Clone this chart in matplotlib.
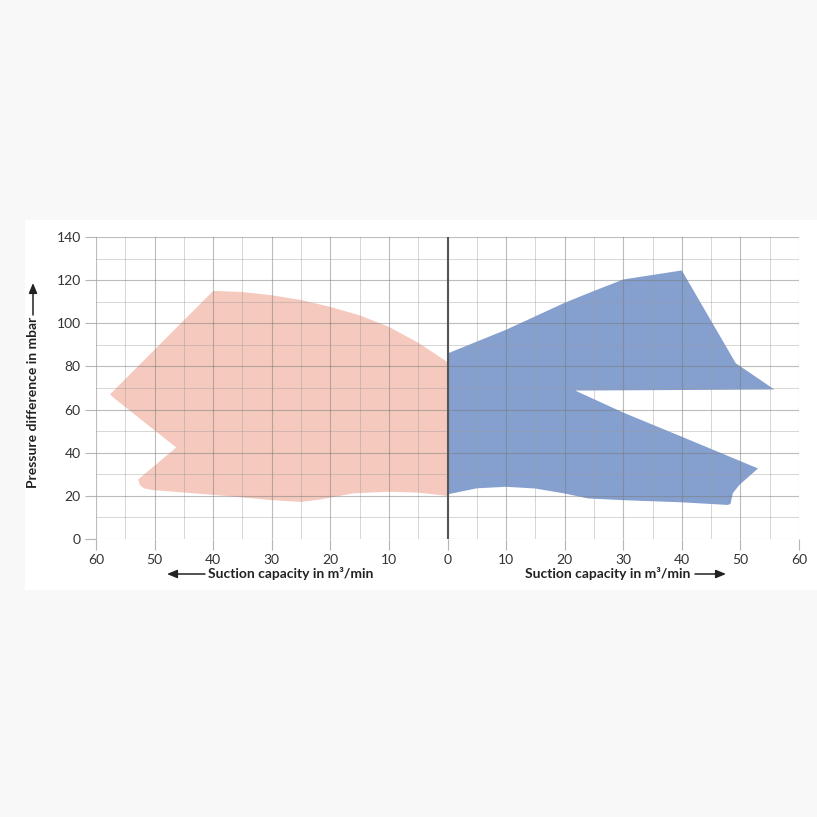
import matplotlib
matplotlib.use("Agg")
import matplotlib.pyplot as plt
from matplotlib.patches import Rectangle, FancyArrowPatch
import numpy as np

plt.rcParams['font.family'] = ['Lato', 'DejaVu Sans']

# Left (pink) operating range: suction capacity (plotted to the left), pressure difference
left_capacity = [40, 35, 30, 25, 20, 15, 10, 5, 0,
                 0, 5, 10, 16, 22, 25, 30, 37.4, 50.4, 51.8, 52.5, 52.8,
                 46.3, 57.0, 57.6, 57.0, 40]
left_pressure = [115, 114.5, 113, 110.8, 107.6, 103.7, 98.3, 91, 82,
                 20, 21.5, 21.9, 21.2, 18.2, 17.2, 18, 19.9, 22.7, 23.5, 25, 27.6,
                 42.4, 65.5, 67.1, 68.7, 115]

# Right (blue) operating range
right_capacity = [0, 10, 20, 25, 30, 40, 49.2, 55.8, 21.8, 30, 40, 53.0,
                  49.8, 48.7, 48.3, 47.8, 40, 30, 24, 20, 15, 10, 5, 0]
right_pressure = [86, 97, 109.5, 115, 120.3, 124.5, 81.5, 69.3, 68.8, 58.6, 47.4, 32.7,
                  25, 21.2, 16.2, 15.8, 17, 18, 18.8, 21.1, 23.4, 24.2, 23.5, 20.7]

x_ticks = [-60, -50, -40, -30, -20, -10, 0, 10, 20, 30, 40, 50, 60]
x_tick_labels = ['60', '50', '40', '30', '20', '10', '0', '10', '20', '30', '40', '50', '60']
y_ticks = [0, 20, 40, 60, 80, 100, 120, 140]

W = H = 817
fig = plt.figure(figsize=(8.17, 8.17), dpi=100, facecolor='#f8f8f8')
fig.patches.append(Rectangle((25, H - 590), 792, 370, transform=None,
                             facecolor='white', edgecolor='none', zorder=-10))

ax = fig.add_axes([96 / W, 1 - 539 / H, (799 - 96) / W, (539 - 237) / H])
ax.set_facecolor('none')
ax.set_xlim(-60, 60)
ax.set_ylim(0, 140)

ax.fill([-c for c in left_capacity], left_pressure, color='#f5c9bd', lw=0, zorder=1)
ax.fill(right_capacity, right_pressure, color='#85a0cf', lw=0, zorder=1)

ax.set_xticks(x_ticks)
ax.set_xticklabels(x_tick_labels)
ax.set_xticks(np.arange(-55, 60, 10), minor=True)
ax.set_yticks(y_ticks)
ax.set_yticks(np.arange(10, 140, 20), minor=True)

ax.grid(which='major', color='#7a7a7a', alpha=0.5, lw=0.8, zorder=2)
ax.grid(which='minor', color='#9a9a9a', alpha=0.4, lw=0.7, zorder=2)
ax.set_axisbelow(False)
for s in ax.spines.values():
    s.set_visible(False)

ax.tick_params(which='major', length=8, width=0.8, color='#b5b5b5',
               labelsize=10, labelcolor='#333333', pad=3)
ax.tick_params(which='minor', length=0)

ax.axvline(0, color='#555555', lw=1.5, zorder=3)

# Axis labels with arrows
lab_kw = dict(fontsize=10, fontweight='bold', color='#222222')
fig.text(208, H - 574, 'Suction capacity in m³/min', transform=None,
         ha='left', va='center', **lab_kw)
fig.text(690, H - 574, 'Suction capacity in m³/min', transform=None,
         ha='right', va='center', **lab_kw)
fig.text(33, H - 402, 'Pressure difference in mbar', transform=None,
         ha='center', va='center', rotation=90, **lab_kw)

for xy, xyt in [((167, H - 574), (205, H - 574)),
                ((726, H - 574), (695, H - 574)),
                ((33, H - 283), (33, H - 315))]:
    fig.add_artist(FancyArrowPatch(xyt, xy, transform=None,
                                   arrowstyle='-|>,head_length=0.6,head_width=0.25',
                                   mutation_scale=10, color='#222222', lw=1.1,
                                   shrinkA=0, shrinkB=0))

fig.savefig('out.png', dpi=100, facecolor=fig.get_facecolor())
